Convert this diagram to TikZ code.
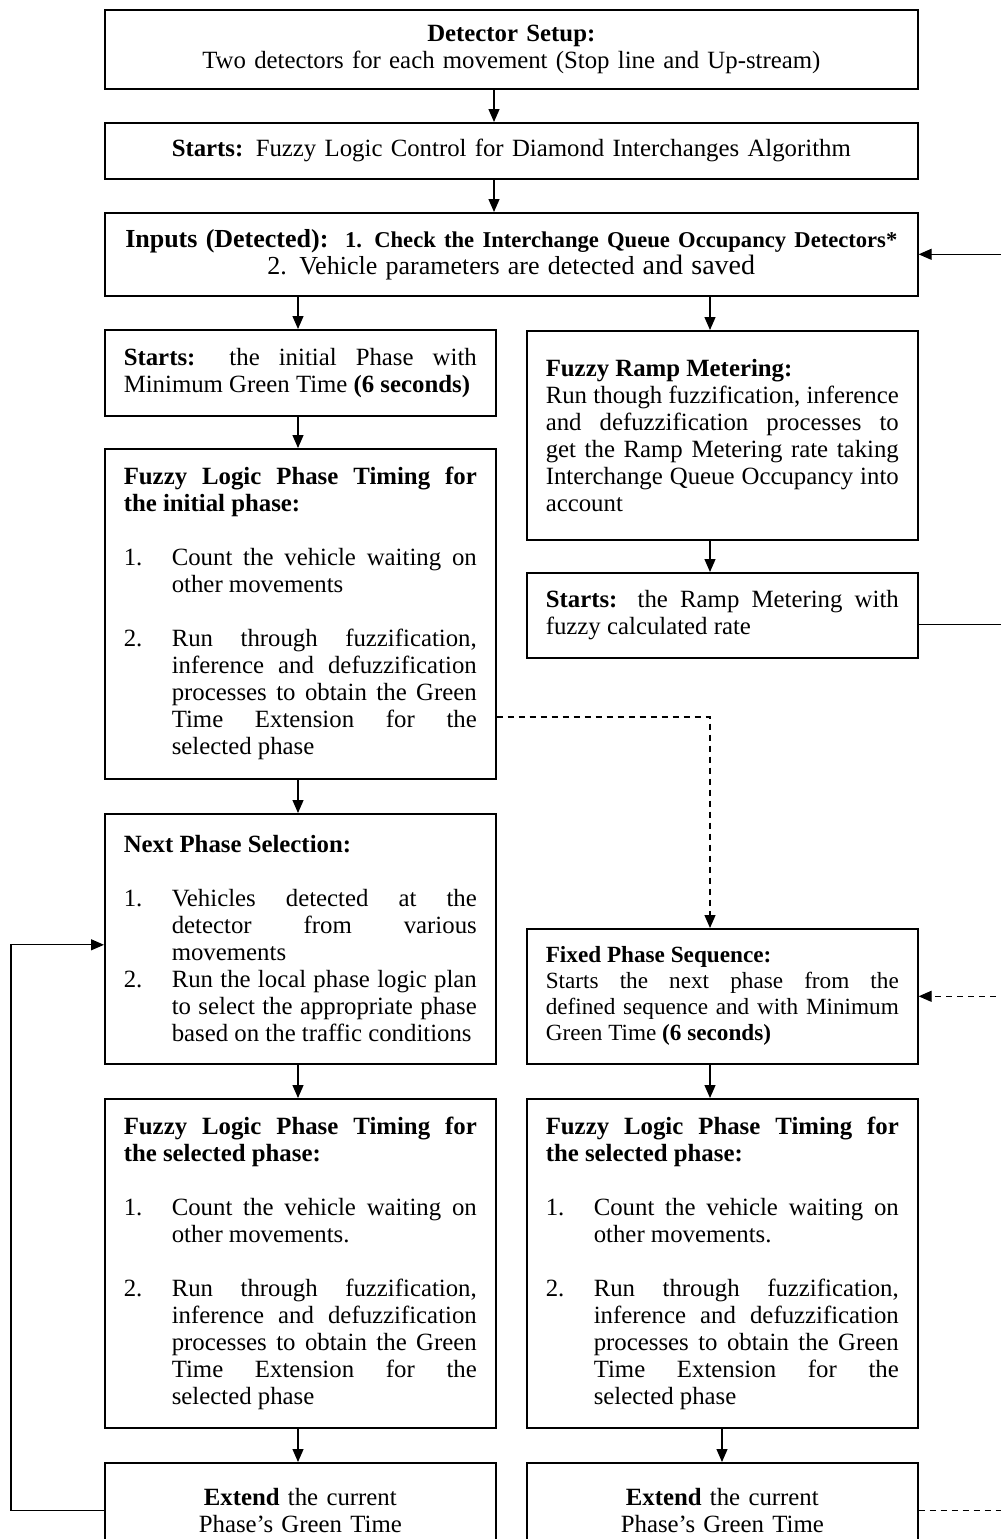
\documentclass[tikz,border=0pt]{standalone}
\usepackage{fontspec}
\setmainfont{Liberation Serif}
\usetikzlibrary{arrows.meta}

\tikzset{
  box/.style={draw, line width=0.8pt, anchor=north west, inner xsep=9.5pt, inner ysep=0pt,
    font=\fontsize{12.4}{13.5}\selectfont},
  colbox/.style={box, text width=176.5pt, align=justify},
  widebox/.style={box, text width=387.5pt, align=center},
  flow/.style={line width=0.6pt, -{Triangle[length=6.5pt,width=5.5pt]}},
  flowdash/.style={flow, dash pattern=on 3pt off 2.5pt},
}
% numbered item with hanging indent
\newcommand{\itm}[2]{\par\noindent\hangindent=24pt\hangafter=1\makebox[24pt][l]{#1}#2\par}
\newcommand{\gap}{\par\vspace{13.5pt}}

\begin{document}
\begin{tikzpicture}[x=0.5pt,y=-0.5pt]
\useasboundingbox (0,0) rectangle (1001,1539);
\clip (0,0) rectangle (1001,1539);

\node[widebox, minimum height=39.5pt] (setup) at (104,9) {\textbf{Detector Setup:}\\Two detectors for each movement (Stop line and Up-stream)};
\node[widebox, minimum height=28pt] (start) at (104,122) {\textbf{Starts:} Fuzzy Logic Control for Diamond Interchanges Algorithm};
\node[widebox, minimum height=41.5pt] (inputs) at (104,212) {\mbox{{\fontsize{13}{13.5}\selectfont\textbf{Inputs (Detected):}}\ \ {\fontsize{11.3}{13.5}\selectfont\textbf{1. Check the Interchange Queue Occupancy Detectors*}}}\\{\fontsize{13}{13.5}\selectfont 2. Vehicle parameters are detected} {\fontsize{14}{13.5}\selectfont and saved}};

% left column
\node[colbox, minimum height=43pt] (initial) at (104,329) {\textbf{Starts:} the initial Phase with \linebreak Minimum Green Time \textbf{(6 seconds)}};
\node[colbox, minimum height=165pt] (timing) at (104,448) {\textbf{Fuzzy Logic Phase Timing for \linebreak the initial phase:}\gap
  \itm{1.}{Count the vehicle waiting on \linebreak other movements}\gap
  \itm{2.}{Run through fuzzification, \linebreak inference and defuzzification \linebreak processes to obtain the Green \linebreak Time Extension for the \linebreak selected phase}};
\node[colbox, minimum height=125pt] (select) at (104,813) {\textbf{Next Phase Selection:}\gap
  \itm{1.}{Vehicles detected at the \linebreak detector from various \linebreak movements}
  \itm{2.}{Run the local phase logic plan \linebreak to select the appropriate phase \linebreak based on the traffic conditions}};
\node[colbox, minimum height=164.5pt] (ltiming) at (104,1098) {\textbf{Fuzzy Logic Phase Timing for \linebreak the selected phase:}\gap
  \itm{1.}{Count the vehicle waiting on \linebreak other movements.}\gap
  \itm{2.}{Run through fuzzification, \linebreak inference and defuzzification \linebreak processes to obtain the Green \linebreak Time Extension for the \linebreak selected phase}};
\node[colbox, align=center, minimum height=48pt] (lextend) at (104,1462) {\textbf{Extend} the current\\Phase’s Green Time\par\vspace{14pt}};

% right column
\node[colbox, minimum height=104.5pt] (ramp) at (526,330) {\textbf{Fuzzy Ramp Metering:}\\Run though fuzzification, inference \linebreak and defuzzification processes to \linebreak get the Ramp Metering rate taking \linebreak Interchange Queue Occupancy into \linebreak account};
\node[colbox, minimum height=42.5pt] (metering) at (526,572) {\textbf{Starts:} the Ramp Metering with \linebreak fuzzy calculated rate};
\node[colbox, minimum height=67.5pt, font=\fontsize{11.6}{13}\selectfont] (fixed) at (526,928) {\textbf{Fixed Phase Sequence:}\\Starts the next phase from the \linebreak defined sequence and with Minimum \linebreak Green Time \textbf{(6 seconds)}};
\node[colbox, minimum height=164.5pt] (rtiming) at (526,1098) {\textbf{Fuzzy Logic Phase Timing for \linebreak the selected phase:}\gap
  \itm{1.}{Count the vehicle waiting on \linebreak other movements.}\gap
  \itm{2.}{Run through fuzzification, \linebreak inference and defuzzification \linebreak processes to obtain the Green \linebreak Time Extension for the \linebreak selected phase}};
\node[colbox, align=center, minimum height=48pt] (rextend) at (526,1462) {\textbf{Extend} the current\\Phase’s Green Time\par\vspace{14pt}};

\coordinate (mid) at (494,0);
\coordinate (lcol) at (298,0);
\coordinate (rcol) at (710,0);
\coordinate (rcolb) at (722,0);
\coordinate (edge) at (1030,0);
\coordinate (back) at (11,0);
\coordinate (bend) at (710,717);
\coordinate (ratein) at ([yshift=-4.75pt]metering.east);

\draw[flow] (mid |- setup.south) -- (mid |- start.north);
\draw[flow] (mid |- start.south) -- (mid |- inputs.north);
\draw[flow] (lcol |- inputs.south) -- (lcol |- initial.north);
\draw[flow] (rcol |- inputs.south) -- (rcol |- ramp.north);
\draw[flow] (lcol |- initial.south) -- (lcol |- timing.north);
\draw[flow] (rcol |- ramp.south) -- (rcol |- metering.north);
\draw[flow] (lcol |- timing.south) -- (lcol |- select.north);
\draw[flow] (lcol |- select.south) -- (lcol |- ltiming.north);
\draw[flow] (rcol |- fixed.south) -- (rcol |- rtiming.north);
\draw[flow] (lcol |- ltiming.south) -- (lcol |- lextend.north);
\draw[flow] (rcolb |- rtiming.south) -- (rcolb |- rextend.north);

% metering rate fed back to the inputs
\draw[flow] (ratein) -- (edge |- ratein) |- (inputs.east);
% fixed sequence branch
\draw[flowdash] (timing.east |- bend) -- (bend) -- (rcol |- fixed.north);
\draw[flowdash] (rextend.east) -- (edge |- rextend.east) |- (fixed.east);
% loop back to phase selection
\draw[flow] (lextend.west) -- (back |- lextend.west) |- ([yshift=-3pt]select.west);
\end{tikzpicture}
\end{document}
